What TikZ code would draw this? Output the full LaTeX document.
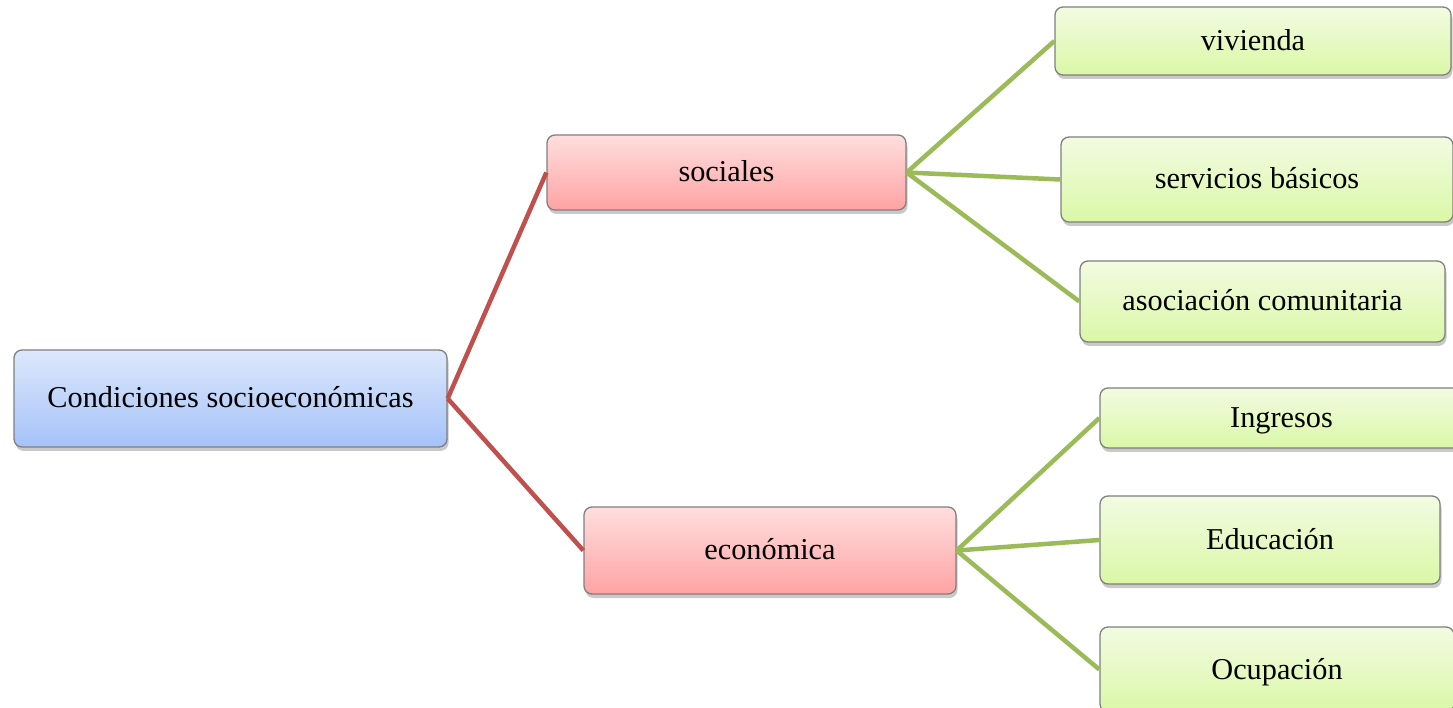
\documentclass[tikz,border=0pt]{standalone}
\usepackage{fontspec}
\setmainfont{Liberation Serif}
\usetikzlibrary{shadows}
\definecolor{blueTop}{HTML}{DDE8FC}
\definecolor{blueBot}{HTML}{A4C2F8}
\definecolor{redTop}{HTML}{FFDEDE}
\definecolor{redBot}{HTML}{FFA3A3}
\definecolor{greenTop}{HTML}{F2FBE2}
\definecolor{greenBot}{HTML}{DAF8A6}
\definecolor{boxBorder}{HTML}{7F7F7F}
\definecolor{redLine}{HTML}{C0504D}
\definecolor{greenLine}{HTML}{9BBB59}
\tikzset{
  box/.style={draw=boxBorder, line width=1.3pt, rounded corners=8pt,
    inner sep=0pt, text height=23pt, text depth=4pt,
    font=\fontsize{30.3}{35}\selectfont,
    drop shadow={shadow xshift=1.5pt, shadow yshift=-4pt, opacity=0.3, fill=black!70}},
  rootbox/.style={box, top color=blueTop, bottom color=blueBot},
  midbox/.style={box, top color=redTop, bottom color=redBot},
  leafbox/.style={box, top color=greenTop, bottom color=greenBot},
  redlink/.style={draw=redLine, line width=4.5pt},
  greenlink/.style={draw=greenLine, line width=4.5pt}
}
\begin{document}
\begin{tikzpicture}[x=1pt,y=1pt]
\useasboundingbox (0,0) rectangle (1453,707);
% nodes (y = 707 - pixel y)
\node[rootbox, minimum width=433pt, minimum height=97pt] (root) at (230.5,308.5) {Condiciones socioeconómicas};
\node[midbox, minimum width=359pt, minimum height=75pt] (soc) at (726.5,534.5) {sociales};
\node[midbox, minimum width=372pt, minimum height=87pt] (eco) at (770,156.5) {económica};
\node[leafbox, minimum width=396pt, minimum height=68pt] (viv) at (1253,666) {vivienda};
\node[leafbox, minimum width=392pt, minimum height=85pt] (ser) at (1257,527.5) {servicios básicos};
\node[leafbox, minimum width=365pt, minimum height=81pt] (aso) at (1262.5,405.5) {asociación comunitaria};
\node[leafbox, minimum width=363pt, minimum height=60pt] (ing) at (1281.5,289) {Ingresos};
\node[leafbox, minimum width=340pt, minimum height=88pt] (edu) at (1270,167) {Educación};
\node[leafbox, minimum width=354pt, minimum height=85pt] (ocu) at (1277,37.5) {Ocupación};
% connectors
\draw[redlink] (root.east) -- (soc.west);
\draw[redlink] (root.east) -- (eco.west);
\draw[greenlink] (soc.east) -- (viv.west);
\draw[greenlink] (soc.east) -- (ser.west);
\draw[greenlink] (soc.east) -- (aso.west);
\draw[greenlink] (eco.east) -- (ing.west);
\draw[greenlink] (eco.east) -- (edu.west);
\draw[greenlink] (eco.east) -- (ocu.west);
\end{tikzpicture}
\end{document}
